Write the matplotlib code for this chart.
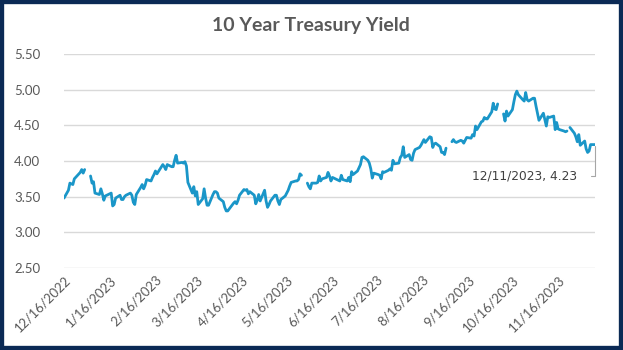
import matplotlib
matplotlib.use("Agg")
import matplotlib.pyplot as plt
from matplotlib.patches import Rectangle
import numpy as np
import pandas as pd

# Daily 10-year yield (%) by month; None marks a market holiday (drawn as a gap)
dec22 = [("2022-12-16", 3.48), ("2022-12-19", 3.59), ("2022-12-20", 3.69), ("2022-12-21", 3.68),
         ("2022-12-22", 3.67), ("2022-12-23", 3.75), ("2022-12-27", 3.84), ("2022-12-28", 3.88),
         ("2022-12-29", 3.83), ("2022-12-30", 3.88), ("2023-01-02", None)]
jan23 = [3.79, 3.69, 3.71, 3.55, 3.53, 3.61, 3.54, 3.45, 3.51, 3.55, 3.37, 3.39, 3.48,
         3.52, 3.46, 3.46, 3.50, 3.52, 3.55, 3.52]
jan23_dates = ["01-03", "01-04", "01-05", "01-06", "01-09", "01-10", "01-11", "01-12", "01-13",
               "01-17", "01-18", "01-19", "01-20", "01-23", "01-24", "01-25", "01-26", "01-27",
               "01-30", "01-31"]
feb23 = [3.42, 3.39, 3.53, 3.63, 3.67, 3.61, 3.66, 3.74, 3.72, 3.77, 3.81, 3.86, 3.82,
         3.95, 3.92, 3.88, 3.95, 3.92, 3.92]
feb23_dates = ["02-01", "02-02", "02-03", "02-06", "02-07", "02-08", "02-09", "02-10", "02-13",
               "02-14", "02-15", "02-16", "02-17", "02-21", "02-22", "02-23", "02-24", "02-27",
               "02-28"]
mar23 = [4.01, 4.08, 3.97, 3.98, 3.97, 3.99, 3.93, 3.70, 3.55, 3.64, 3.51, 3.57, 3.39,
         3.47, 3.61, 3.48, 3.38, 3.38, 3.53, 3.57, 3.57, 3.55, 3.48]
mar23_dates = ["03-01", "03-02", "03-03", "03-06", "03-07", "03-08", "03-09", "03-10", "03-13",
               "03-14", "03-15", "03-16", "03-17", "03-20", "03-21", "03-22", "03-23", "03-24",
               "03-27", "03-28", "03-29", "03-30", "03-31"]
apr23 = [3.43, 3.35, 3.30, 3.30, 3.41, 3.43, 3.40, 3.45, 3.52, 3.60, 3.59, 3.60, 3.54,
         3.57, 3.52, 3.40, 3.45, 3.53, 3.44]
apr23_dates = ["04-03", "04-04", "04-05", "04-06", "04-10", "04-11", "04-12", "04-13", "04-14",
               "04-17", "04-18", "04-19", "04-20", "04-21", "04-24", "04-25", "04-26", "04-27",
               "04-28"]
may23 = [3.59, 3.44, 3.35, 3.39, 3.44, 3.52, 3.52, 3.44, 3.39, 3.46, 3.51, 3.55, 3.59,
         3.65, 3.70, 3.72, 3.72, 3.74, 3.82, 3.80, None, 3.69, 3.64]
may23_dates = ["05-01", "05-02", "05-03", "05-04", "05-05", "05-08", "05-09", "05-10", "05-11",
               "05-12", "05-15", "05-16", "05-17", "05-18", "05-19", "05-22", "05-23", "05-24",
               "05-25", "05-26", "05-29", "05-30", "05-31"]
jun23 = [3.61, 3.69, 3.69, 3.70, 3.79, 3.72, 3.75, 3.77, 3.84, 3.79, 3.72, 3.77, 3.73,
         3.72, 3.80, 3.74, 3.72, 3.77, 3.71, 3.85, 3.81]
jun23_dates = ["06-01", "06-02", "06-05", "06-06", "06-07", "06-08", "06-09", "06-12", "06-13",
               "06-14", "06-15", "06-16", "06-20", "06-21", "06-22", "06-23", "06-26", "06-27",
               "06-28", "06-29", "06-30"]
jul23 = [3.86, 3.95, 4.05, 4.06, 4.01, 3.97, 3.89, 3.76, 3.83, 3.81, 3.80, 3.75, 3.85,
         3.84, 3.87, 3.89, 3.87, 4.01, 3.96, 3.97]
jul23_dates = ["07-03", "07-05", "07-06", "07-07", "07-10", "07-11", "07-12", "07-13", "07-14",
               "07-17", "07-18", "07-19", "07-20", "07-21", "07-24", "07-25", "07-26", "07-27",
               "07-28", "07-31"]
aug23 = [4.05, 4.08, 4.20, 4.05, 4.09, 4.02, 4.01, 4.11, 4.16, 4.19, 4.22, 4.26, 4.30,
         4.26, 4.34, 4.33, 4.19, 4.24, 4.25, 4.20, 4.12, 4.12, 4.09]
aug23_dates = ["08-01", "08-02", "08-03", "08-04", "08-07", "08-08", "08-09", "08-10", "08-11",
               "08-14", "08-15", "08-16", "08-17", "08-18", "08-21", "08-22", "08-23", "08-24",
               "08-25", "08-28", "08-29", "08-30", "08-31"]
sep23 = [4.18, None, 4.27, 4.30, 4.27, 4.26, 4.29, 4.28, 4.25, 4.29, 4.33, 4.32, 4.37,
         4.35, 4.49, 4.44, 4.55, 4.56, 4.61, 4.59, 4.59]
sep23_dates = ["09-01", "09-04", "09-05", "09-06", "09-07", "09-08", "09-11", "09-12", "09-13",
               "09-14", "09-15", "09-18", "09-19", "09-20", "09-21", "09-22", "09-25", "09-26",
               "09-27", "09-28", "09-29"]
oct23 = [4.69, 4.81, 4.73, 4.72, 4.80, None, 4.66, 4.56, 4.70, 4.63, 4.72, 4.83, 4.93,
         4.98, 4.93, 4.86, 4.84, 4.96, 4.86, 4.84, 4.88, 4.88]
oct23_dates = ["10-02", "10-03", "10-04", "10-05", "10-06", "10-09", "10-10", "10-11", "10-12",
               "10-13", "10-16", "10-17", "10-18", "10-19", "10-20", "10-23", "10-24", "10-25",
               "10-26", "10-27", "10-30", "10-31"]
nov23 = [4.77, 4.67, 4.57, 4.67, 4.58, 4.49, 4.62, 4.61, 4.63, 4.44, 4.54, 4.45, 4.44,
         4.42, 4.41, 4.42, None, 4.47, 4.39, 4.34, 4.27, 4.37]
nov23_dates = ["11-01", "11-02", "11-03", "11-06", "11-07", "11-08", "11-09", "11-10", "11-13",
               "11-14", "11-15", "11-16", "11-17", "11-20", "11-21", "11-22", "11-23", "11-24",
               "11-27", "11-28", "11-29", "11-30"]
dec23 = [4.22, 4.28, 4.17, 4.12, 4.14, 4.23, 4.23]
dec23_dates = ["12-01", "12-04", "12-05", "12-06", "12-07", "12-08", "12-11"]

tick_labels = ["12/16/2022", "1/16/2023", "2/16/2023", "3/16/2023", "4/16/2023", "5/16/2023",
               "6/16/2023", "7/16/2023", "8/16/2023", "9/16/2023", "10/16/2023", "11/16/2023"]
y_ticks = [2.50, 3.00, 3.50, 4.00, 4.50, 5.00, 5.50]
title = "10 Year Treasury Yield"

# Assemble the series
dates = [d for d, _ in dec22]
vals = [v for _, v in dec22]
for ds, vs in [(jan23_dates, jan23), (feb23_dates, feb23), (mar23_dates, mar23),
               (apr23_dates, apr23), (may23_dates, may23), (jun23_dates, jun23),
               (jul23_dates, jul23), (aug23_dates, aug23), (sep23_dates, sep23),
               (oct23_dates, oct23), (nov23_dates, nov23), (dec23_dates, dec23)]:
    dates += ["2023-" + d for d in ds]
    vals += vs
x = pd.to_datetime(dates)
y = np.array([np.nan if v is None else v for v in vals], dtype=float)

gray = "#595959"
line_color = "#1a96c8"

fig = plt.figure(figsize=(6.23, 3.5), dpi=100)
fig.patch.set_facecolor("white")
ax = fig.add_axes([64 / 623, 1 - 268 / 350, (595 - 64) / 623, (268 - 54) / 350])

ax.plot(x, y, color=line_color, lw=2.0, solid_joinstyle="round", solid_capstyle="round",
        zorder=3)

ax.set_xlim(x[0], x[-1])
ax.set_ylim(2.5, 5.5)
ax.set_yticks(y_ticks)
ax.set_yticklabels([f"{t:.2f}" for t in y_ticks])
tick_dates = pd.to_datetime([pd.Timestamp(2022, 12, 16) + pd.DateOffset(months=i)
                             for i in range(len(tick_labels))])
ax.set_xticks(tick_dates)
ax.set_xticklabels(tick_labels, rotation=45, ha="right", va="top",
                   rotation_mode="anchor")

ax.grid(axis="y", color="#d9d9d9", lw=1.0)
ax.set_axisbelow(True)
for s in ax.spines.values():
    s.set_visible(False)
ax.tick_params(axis="both", length=0, colors=gray, labelsize=9.5)
ax.tick_params(axis="y", pad=17)
ax.tick_params(axis="x", pad=4)
for lab in ax.get_xticklabels() + ax.get_yticklabels():
    lab.set_fontfamily("Lato")

# Last value callout with leader line
last_x, last_y = x[-1], y[-1]
ax.annotate(f"{last_x.month}/{last_x.day}/{last_x.year}, {last_y:.2f}",
            xy=(last_x, last_y), xytext=(-13, -22.5), textcoords="offset points",
            ha="right", va="center", fontsize=8.8, color="#404040",
            family="DejaVu Sans",
            arrowprops=dict(arrowstyle="-", color="#a6a6a6", lw=0.8,
                            connectionstyle="angle,angleA=0,angleB=90,rad=0",
                            shrinkA=8, shrinkB=1))

fig.text(311 / 623, 1 - 25 / 350, title, ha="center", va="center", fontsize=14,
         fontweight="bold", color=gray, family="Lato")

# Navy frame round the figure
fig.patches.append(Rectangle((0, 0), 1, 1, transform=fig.transFigure, fill=False,
                             edgecolor="#0b2a55", lw=6, zorder=10))

fig.savefig("out.png", dpi=100)
